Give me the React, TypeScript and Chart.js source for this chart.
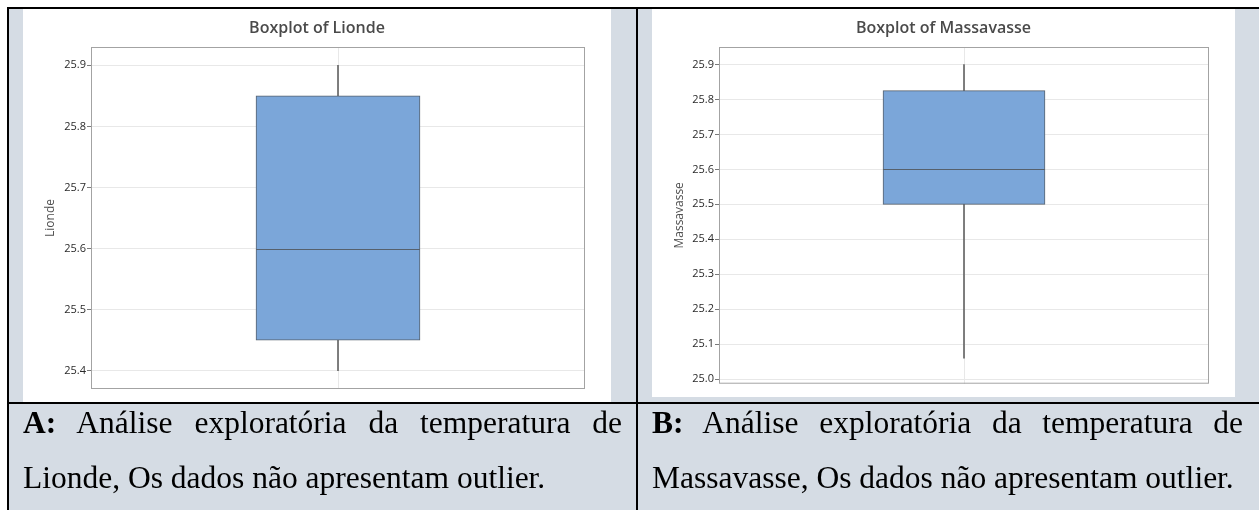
import React, { useEffect, useRef } from "react";
import { Chart, registerables } from "chart.js";

Chart.register(...registerables);

// ---- data ----
const CATEGORY = [""];
// five-number summaries: [min, Q1, median, Q3, max]
const LIONDE_FIVE = [25.4, 25.45, 25.6, 25.85, 25.9];
const MASSAVASSE_FIVE = [25.06, 25.5, 25.6, 25.825, 25.9];
const LIONDE_TICKS = [25.4, 25.5, 25.6, 25.7, 25.8, 25.9];
const MASSAVASSE_TICKS = [25.0, 25.1, 25.2, 25.3, 25.4, 25.5, 25.6, 25.7, 25.8, 25.9];
const LIONDE_RANGE = [25.37, 25.93];
const MASSAVASSE_RANGE = [24.987, 25.95];
const CAPTION_A_LABEL = "A:";
const CAPTION_A = " Análise exploratória da temperatura de Lionde, Os dados não apresentam outlier.";
const CAPTION_B_LABEL = "B:";
const CAPTION_B = " Análise exploratória da temperatura de Massavasse, Os dados não apresentam outlier.";

const CELL_BG = "#d5dce4";
const BOX_FILL = "#7ba6d9";
const BOX_LINE = "#56606c";
const GRID = "#e8e8e8";
const UI_FONT = "'Open Sans', 'Noto Sans', sans-serif";

type BoxProps = {
  name: string;
  five: number[];
  ticks: number[];
  range: number[];
  left: number;
  top: number;
  width: number;
  height: number;
  yWidth: number;
  padBottom: number;
  boxWidth: number;
};

function BoxChart(p: BoxProps) {
  const ref = useRef<HTMLCanvasElement>(null);
  useEffect(() => {
    const [lo, q1, med, q3, hi] = p.five;
    const overlay = {
      id: "medianFrame",
      afterDatasetsDraw(chart: any) {
        const ctx = chart.ctx;
        const bar = chart.getDatasetMeta(2).data[0];
        const { x, width } = bar.getProps(["x", "width"], true);
        const y = Math.round(chart.scales.y.getPixelForValue(med)) + 0.5;
        ctx.save();
        ctx.strokeStyle = BOX_LINE;
        ctx.lineWidth = 1;
        ctx.beginPath();
        ctx.moveTo(x - width / 2, y);
        ctx.lineTo(x + width / 2, y);
        ctx.stroke();
        const a = chart.chartArea;
        ctx.strokeStyle = "#a3a3a3";
        ctx.strokeRect(a.left + 0.5, a.top + 0.5, a.right - a.left - 1, a.bottom - a.top - 1);
        ctx.restore();
      },
    };
    const chart = new Chart(ref.current as HTMLCanvasElement, {
      type: "bar",
      data: {
        labels: CATEGORY,
        datasets: [
          { data: [[q3, hi]] as any, barThickness: 1, backgroundColor: "#666666", grouped: false, order: 2 },
          { data: [[lo, q1]] as any, barThickness: 1, backgroundColor: "#666666", grouped: false, order: 2 },
          {
            data: [[q1, q3]] as any,
            barThickness: p.boxWidth,
            backgroundColor: BOX_FILL,
            borderColor: BOX_LINE,
            borderWidth: 1,
            borderSkipped: false,
            grouped: false,
            order: 1,
          },
        ],
      },
      options: {
        animation: false,
        responsive: false,
        devicePixelRatio: 1,
        layout: { padding: { left: 0, right: 0, top: 0, bottom: p.padBottom } },
        plugins: {
          legend: { display: false },
          tooltip: { enabled: false },
          title: {
            display: true,
            text: "Boxplot of " + p.name,
            color: "#4a4a4a",
            font: { family: UI_FONT, size: 16, weight: "600" },
            padding: { top: 10, bottom: 8.8 },
          },
        },
        scales: {
          x: {
            offset: true,
            grid: { display: true, offset: false, drawTicks: false, color: GRID },
            ticks: { display: false },
            border: { display: false },
            afterFit(s: any) {
              s.height = 0;
              s.paddingLeft = 0;
              s.paddingRight = 0;
            },
          },
          y: {
            min: p.range[0],
            max: p.range[1],
            afterBuildTicks(s: any) {
              s.ticks = p.ticks.map((v) => ({ value: v }));
            },
            ticks: {
              callback: (v: any) => Number(v).toFixed(1),
              font: { family: UI_FONT, size: 11 },
              color: "#2a2a2a",
              padding: 1,
            },
            grid: { color: GRID, tickLength: 4, tickColor: "#7a7a7a", drawTicks: true },
            border: { display: false },
            title: {
              display: true,
              text: p.name,
              color: "#505050",
              font: { family: UI_FONT, size: 12 },
              padding: { top: 20.8, bottom: 0 },
            },
            afterFit(s: any) {
              s.width = p.yWidth;
              s.paddingTop = 0;
              s.paddingBottom = 0;
            },
          },
          yRightSpace: {
            position: "right",
            display: true,
            grid: { display: false, drawTicks: false },
            ticks: { display: false },
            border: { display: false },
            afterFit(s: any) {
              s.width = 26;
              s.paddingTop = 0;
              s.paddingBottom = 0;
            },
          },
        },
      },
      plugins: [overlay],
    } as any);
    return () => chart.destroy();
  }, []);
  return (
    <canvas
      ref={ref}
      width={p.width}
      height={p.height}
      style={{ position: "absolute", left: p.left, top: p.top, width: p.width, height: p.height, background: "#fff" }}
    />
  );
}

function Line({ l, t, w, h }: { l: number; t: number; w: number; h: number }) {
  return <div style={{ position: "absolute", left: l, top: t, width: w, height: h, background: "#000" }} />;
}

const captionStyle: React.CSSProperties = {
  position: "absolute",
  top: 395.4,
  fontFamily: "'Liberation Serif', 'Times New Roman', serif",
  fontSize: 31.5,
  lineHeight: "55px",
  textAlign: "justify",
  textAlignLast: "left" as any,
  color: "#000",
  margin: 0,
};

export default function App() {
  return (
    <div style={{ position: "absolute", left: 0, top: 0, width: 1259, height: 510, overflow: "hidden", background: "#fff" }}>
      <div style={{ position: "absolute", left: 9, top: 9, width: 627, height: 501, background: CELL_BG }} />
      <div style={{ position: "absolute", left: 638, top: 9, width: 621, height: 501, background: CELL_BG }} />
      <BoxChart
        name="Lionde"
        five={LIONDE_FIVE}
        ticks={LIONDE_TICKS}
        range={LIONDE_RANGE}
        left={23}
        top={9}
        width={588}
        height={393}
        yWidth={68}
        padBottom={13}
        boxWidth={164}
      />
      <BoxChart
        name="Massavasse"
        five={MASSAVASSE_FIVE}
        ticks={MASSAVASSE_TICKS}
        range={MASSAVASSE_RANGE}
        left={652}
        top={9}
        width={583}
        height={388}
        yWidth={67}
        padBottom={13.3}
        boxWidth={162}
      />
      <Line l={7} t={7} w={1252} h={2} />
      <Line l={7} t={7} w={2} h={503} />
      <Line l={636} t={7} w={2} h={503} />
      <Line l={7} t={402} w={1252} h={2} />
      <p style={{ ...captionStyle, left: 23, width: 599 }}>
        <b>{CAPTION_A_LABEL}</b>
        {CAPTION_A}
      </p>
      <p style={{ ...captionStyle, left: 652, width: 591 }}>
        <b>{CAPTION_B_LABEL}</b>
        {CAPTION_B}
      </p>
    </div>
  );
}
